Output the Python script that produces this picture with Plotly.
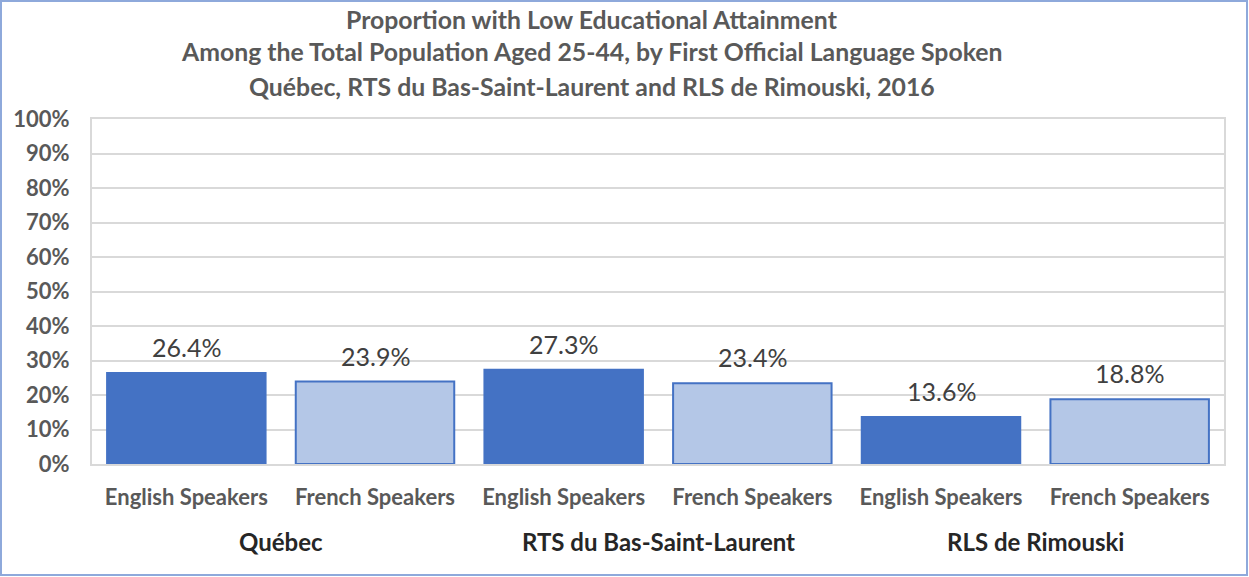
import plotly.graph_objects as go

groups = ["Québec", "RTS du Bas-Saint-Laurent", "RLS de Rimouski"]
speakers = ["English Speakers", "French Speakers"]
english_values = [26.4, 27.3, 13.6]
french_values = [23.9, 23.4, 18.8]

title_lines = [
    "Proportion with Low Educational Attainment",
    "Among the Total Population Aged 25-44, by First Official Language Spoken",
    "Québec, RTS du Bas-Saint-Laurent and RLS de Rimouski, 2016",
]

FONT = "Lato, Open Sans, sans-serif"
W, H = 1249, 577
ML, MR, MT, MB = 92, 25, 119, 113
PW, PH = W - ML - MR, H - MT - MB

cats, vals, fills, lines = [], [], [], []
for i, g in enumerate(groups):
    cats.append(f"{speakers[0]}|{i}")
    vals.append(english_values[i])
    fills.append("#4472C4")
    lines.append("#4472C4")
    cats.append(f"{speakers[1]}|{i}")
    vals.append(french_values[i])
    fills.append("#B4C7E7")
    lines.append("#4472C4")

fig = go.Figure()
fig.add_trace(go.Bar(
    x=cats, y=vals,
    marker=dict(color=fills, line=dict(color=lines, width=2)),
    width=0.84,
    showlegend=False,
    hoverinfo="x+y",
))

fig.update_xaxes(
    tickmode="array", tickvals=cats,
    ticktext=["<b>" + c.split("|")[0] + "</b>" for c in cats],
    tickfont=dict(family=FONT, size=22, color="#595959", weight="bold"),
    showline=True, linecolor="#D9D9D9", linewidth=2, mirror=True,
    ticks="", showgrid=False, ticklabelstandoff=13,
)
fig.update_yaxes(
    range=[0, 100], dtick=10, ticksuffix="%",
    tickfont=dict(family=FONT, size=22, color="#595959", weight="bold"),
    showgrid=True, gridcolor="#D9D9D9", gridwidth=2,
    showline=True, linecolor="#D9D9D9", linewidth=2, mirror=True,
    zeroline=False, ticks="", ticklabelstandoff=16,
)

annotations = []
# data labels
for c, v in zip(cats, vals):
    annotations.append(dict(
        x=c, y=v, xref="x", yref="y", text=f"{v:.1f}%", showarrow=False,
        yanchor="middle", yshift=26,
        font=dict(family=FONT, size=25, color="#404040"),
    ))
# group labels
for i, g in enumerate(groups):
    annotations.append(dict(
        x=2 * i + 0.5, xref="x", y=-(541 - (H - MB)) / PH, yref="paper",
        text="<b>" + g + "</b>", showarrow=False, yanchor="middle",
        font=dict(family=FONT, size=24, color="#262626"),
    ))
# title lines
title_y = [20, 52, 86]
for t, yy in zip(title_lines, title_y):
    annotations.append(dict(
        x=(592 - ML) / PW, xref="paper", xanchor="center",
        y=1 + (MT - yy) / PH, yref="paper", yanchor="middle",
        text="<b>" + t + "</b>", showarrow=False,
        font=dict(family=FONT, size=24.8, color="#595959"),
    ))

fig.update_layout(
    width=W, height=H,
    margin=dict(l=ML, r=MR, t=MT, b=MB, autoexpand=False),
    paper_bgcolor="white", plot_bgcolor="white",
    annotations=annotations,
    shapes=[dict(
        type="rect", xref="paper", yref="paper",
        x0=(1 - ML) / PW, x1=(W - 2 - ML) / PW,
        y0=-(MB - 2) / PH, y1=1 + (MT - 1) / PH,
        line=dict(color="#8EA9DB", width=2), layer="below",
    )],
)

fig.write_html(
    "out.html",
    config={"displayModeBar": False},
    post_script="document.body.style.margin='0';document.body.style.overflow='hidden';",
)
